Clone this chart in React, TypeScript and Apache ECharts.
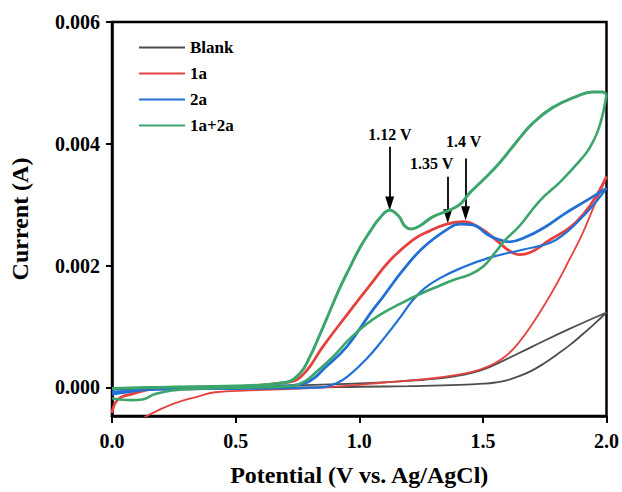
import React, { useEffect, useRef } from "react";
import * as echarts from "echarts";

const seriesNames = ["Blank", "1a", "2a", "1a+2a"];
const colors = ["#4d4d4d", "#e5423f", "#2170d6", "#3ca56b"];

// Blank: forward and reverse scans [E (V), I (A)]
const blankForward = [
  [0.0, -0.00003], [0.2, -0.00002], [0.4, -0.00001], [0.6, 0.0], [0.8, 0.0],
  [1.0, 0.00001], [1.2, 0.00002], [1.3, 0.00003], [1.4, 0.00004], [1.5, 0.00006],
  [1.55, 0.00008], [1.6, 0.00012], [1.65, 0.00019], [1.7, 0.00028], [1.75, 0.0004],
  [1.8, 0.00054], [1.85, 0.00069], [1.9, 0.00086], [1.95, 0.00104], [2.0, 0.00123]
];
const blankReverse = [
  [2.0, 0.00123], [1.85, 0.00096], [1.7, 0.00067], [1.568, 0.00041], [1.5, 0.00029],
  [1.426, 0.00021], [1.325, 0.00015], [1.164, 0.0001], [0.88, 0.00005], [0.558, 0.00002],
  [0.154, 0.0], [0.0, -0.00002]
];

// 1a
const oneAForward = [
  [0.0, -0.00042], [0.024, -0.0002], [0.081, -0.00011], [0.174, -0.00003], [0.356, -0.00002],
  [0.56, 0.00002], [0.68, 0.00007], [0.74, 0.00011], [0.77, 0.0002], [0.8, 0.00034],
  [0.853, 0.00067], [0.95, 0.00119], [1.042, 0.00167], [1.123, 0.00208], [1.216, 0.00242],
  [1.285, 0.00257], [1.354, 0.00268], [1.418, 0.00272], [1.487, 0.00262], [1.556, 0.00241],
  [1.608, 0.00224], [1.648, 0.00218], [1.689, 0.00221], [1.77, 0.00242], [1.85, 0.00262],
  [1.91, 0.00286], [1.96, 0.00315], [2.0, 0.00346]
];
const oneAReverse = [
  [2.0, 0.00346], [1.95, 0.00298], [1.9, 0.0025], [1.85, 0.0021], [1.8, 0.00171],
  [1.75, 0.00136], [1.7, 0.00104], [1.65, 0.00076], [1.6, 0.00054], [1.55, 0.0004],
  [1.5, 0.00031], [1.45, 0.00025], [1.4, 0.00021], [1.3, 0.00015], [1.2, 0.00011],
  [1.1, 0.00008], [0.962, 0.00003], [0.76, -0.00002], [0.558, -0.00005], [0.416, -0.00008],
  [0.347, -0.00015], [0.242, -0.00028], [0.141, -0.00047], [0.073, -0.00063], [0.0, -0.0008]
];

// 2a
const twoAForward = [
  [0.0, -0.00011], [0.053, -0.00008], [0.174, -0.00002], [0.558, 0.0], [0.72, 0.00003],
  [0.76, 0.00005], [0.788, 0.00008], [0.82, 0.00016], [0.853, 0.00029], [0.95, 0.00067],
  [1.042, 0.0012], [1.095, 0.00148], [1.176, 0.00192], [1.257, 0.00229], [1.354, 0.00259],
  [1.406, 0.00268], [1.459, 0.00267], [1.515, 0.00252], [1.556, 0.00244], [1.608, 0.00239],
  [1.669, 0.00246], [1.75, 0.00263], [1.83, 0.00285], [1.92, 0.00307], [2.0, 0.00327]
];
const twoAReverse = [
  [2.0, 0.00327], [1.952, 0.00302], [1.891, 0.00275], [1.83, 0.00252], [1.77, 0.00237],
  [1.66, 0.00226], [1.527, 0.00213], [1.406, 0.00195], [1.325, 0.00179], [1.265, 0.00163],
  [1.216, 0.00143], [1.164, 0.00114], [1.095, 0.00078], [1.03, 0.00047], [0.962, 0.00021],
  [0.909, 0.00007], [0.84, 0.0], [0.558, -0.00002], [0.242, -0.00003], [0.105, -0.00005],
  [0.0, -0.00007]
];

// 1a+2a
const mixForward = [
  [0.0, -0.00002], [0.19, 0.0], [0.56, 0.00003], [0.7, 0.00008], [0.76, 0.00023],
  [0.8, 0.0005], [0.84, 0.00086], [0.881, 0.00125], [0.921, 0.00163], [0.962, 0.00197],
  [1.002, 0.00229], [1.042, 0.00255], [1.083, 0.00278], [1.123, 0.00291], [1.16, 0.00281],
  [1.184, 0.00265], [1.21, 0.0026], [1.244, 0.00265], [1.297, 0.0028], [1.358, 0.0029],
  [1.406, 0.003], [1.446, 0.00319], [1.507, 0.00343], [1.568, 0.00369], [1.636, 0.00403],
  [1.7, 0.00433], [1.78, 0.00459], [1.88, 0.00478], [1.943, 0.00485], [1.984, 0.00485],
  [2.0, 0.00481]
];
const mixReverse = [
  [2.0, 0.00481], [1.988, 0.00454], [1.964, 0.0042], [1.93, 0.00392], [1.9, 0.00376],
  [1.814, 0.00338], [1.729, 0.00306], [1.648, 0.00265], [1.588, 0.00241], [1.547, 0.0022],
  [1.5, 0.00198], [1.446, 0.00185], [1.386, 0.00177], [1.325, 0.00167], [1.244, 0.00153],
  [1.164, 0.00137], [1.083, 0.00119], [1.03, 0.00104], [0.962, 0.0008], [0.893, 0.0005],
  [0.828, 0.00026], [0.78, 0.0001], [0.72, 0.00002], [0.56, 0.0], [0.356, -0.00002],
  [0.242, -0.00005], [0.174, -0.00011], [0.121, -0.0002], [0.081, -0.00021], [0.032, -0.0002],
  [0.0, -0.00018]
];

// annotations: peak arrows [x, yTop, yHead] and labels [text, x, y]
const peakArrows = [
  [1.123, 0.00395, 0.00302],
  [1.358, 0.00346, 0.00281],
  [1.43, 0.00376, 0.00286]
];
const peakLabels: [string, number, number][] = [
  ["1.12 V", 1.124, 0.00416],
  ["1.35 V", 1.293, 0.00367],
  ["1.4 V", 1.422, 0.00403]
];

const xTicks = [0, 0.5, 1.0, 1.5, 2.0];
const yTicks = [0, 0.002, 0.004, 0.006];

const FONT = "'Liberation Serif', 'Times New Roman', serif";

export default function App() {
  const ref = useRef<HTMLDivElement>(null);
  useEffect(() => {
    if (!ref.current) return;
    const chart = echarts.init(ref.current, null, { renderer: "svg" });
    const pairs = [
      [blankForward, blankReverse, 1.8, 1.8],
      [oneAForward, oneAReverse, 2.8, 1.8],
      [twoAForward, twoAReverse, 2.8, 2.2],
      [mixForward, mixReverse, 3.0, 2.6]
    ] as any[];
    const series: any[] = [];
    pairs.forEach((p, i) => {
      [0, 1].forEach((k) => {
        series.push({
          name: seriesNames[i],
          type: "line",
          data: p[k],
          smooth: 0.45,
          showSymbol: false,
          clip: true,
          lineStyle: { color: colors[i], width: p[2 + k] },
          itemStyle: { color: colors[i] },
          z: 2 + i
        });
      });
    });
    series.push({
      name: "annotations",
      type: "line",
      data: [],
      silent: true,
      z: 10,
      markLine: {
        silent: true,
        symbol: ["none", "none"],
        lineStyle: { color: "#000", width: 1.8, type: "solid" },
        label: { show: false },
        data: peakArrows.map((a) => [
          { coord: [a[0], a[1]] },
          { coord: [a[0], a[2]] }
        ])
      },
      markPoint: {
        silent: true,
        label: {
          show: true,
          position: "inside",
          color: "#000",
          fontFamily: FONT,
          fontWeight: "bold",
          fontSize: 16,
          formatter: (p: any) => p.name
        },
        data: [
          ...peakLabels.map((l) => ({
            name: l[0],
            coord: [l[1], l[2]],
            symbol: "circle",
            symbolSize: 0
          })),
          ...peakArrows.map((a) => ({
            name: "",
            coord: [a[0], a[2]],
            symbol: "triangle",
            symbolSize: [9, 14],
            symbolRotate: 180,
            itemStyle: { color: "#000" },
            label: { show: false }
          }))
        ]
      }
    });

    chart.setOption({
      animation: false,
      backgroundColor: "#fff",
      grid: {
        left: 112,
        right: 15,
        top: 22,
        bottom: 72,
        show: true,
        borderColor: "#000",
        borderWidth: 2.5,
        backgroundColor: "transparent"
      },
      legend: {
        data: seriesNames,
        orient: "vertical",
        left: 134,
        top: 34,
        icon: "rect",
        itemWidth: 46,
        itemHeight: 2,
        itemGap: 9,
        textStyle: { fontFamily: FONT, fontWeight: "bold", fontSize: 17, color: "#000" }
      },
      xAxis: {
        type: "value",
        min: 0,
        max: 2,
        interval: 0.5,
        name: "Potential (V vs. Ag/AgCl)",
        nameLocation: "middle",
        nameGap: 47,
        nameTextStyle: { fontFamily: FONT, fontWeight: "bold", fontSize: 24, color: "#000" },
        axisLine: { show: true, onZero: false, lineStyle: { color: "#000", width: 2.5 } },
        axisTick: { show: true, inside: false, length: 7, lineStyle: { color: "#000", width: 2 }, customValues: xTicks },
        axisLabel: {
          margin: 15,
          fontFamily: FONT,
          fontWeight: "bold",
          fontSize: 20,
          color: "#000",
          customValues: xTicks,
          formatter: (v: number) => v.toFixed(1)
        },
        splitLine: { show: false }
      },
      yAxis: {
        type: "value",
        min: -0.00047,
        max: 0.006,
        name: "Current (A)",
        nameLocation: "middle",
        nameGap: 80,
        nameTextStyle: { fontFamily: FONT, fontWeight: "bold", fontSize: 24, color: "#000" },
        axisLine: { show: true, onZero: false, lineStyle: { color: "#000", width: 2.5 } },
        axisTick: { show: true, inside: false, length: 6, lineStyle: { color: "#000", width: 2 }, customValues: yTicks },
        axisLabel: {
          margin: 12,
          fontFamily: FONT,
          fontWeight: "bold",
          fontSize: 20,
          color: "#000",
          customValues: yTicks,
          formatter: (v: number) => v.toFixed(3)
        },
        splitLine: { show: false }
      },
      series
    });
    return () => chart.dispose();
  }, []);
  return (
    <div
      ref={ref}
      style={{ position: "absolute", left: 0, top: 0, width: 622, height: 492 }}
    />
  );
}
